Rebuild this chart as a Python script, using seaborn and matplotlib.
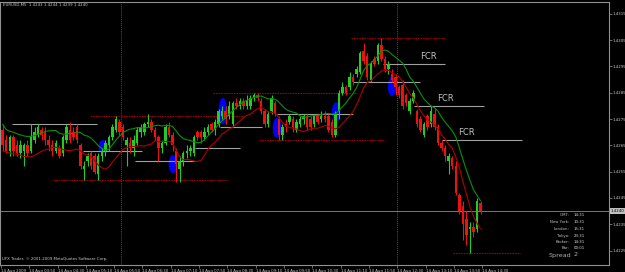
import matplotlib
matplotlib.use("Agg")
import matplotlib.pyplot as plt
import matplotlib.transforms as mtransforms
from matplotlib.patches import Ellipse
import seaborn as sns
import numpy as np
import pandas as pd

symbol = "EURUSD,M5"

opens = [1.4271, 1.4267, 1.4263, 1.4268, 1.4265, 1.4262, 1.4263, 1.4265, 1.4263, 1.4267,
         1.4269, 1.4271, 1.4270, 1.4267, 1.4265, 1.4263, 1.4264, 1.4262, 1.4267, 1.4271,
         1.4270, 1.4272, 1.4265, 1.4256, 1.4259, 1.4262, 1.4261, 1.4254, 1.4261, 1.4263,
         1.4265, 1.4268, 1.4271, 1.4274, 1.4272, 1.4265, 1.4266, 1.4264, 1.4266, 1.4270,
         1.4270, 1.4273, 1.4274, 1.4271, 1.4268, 1.4264, 1.4266, 1.4272, 1.4269, 1.4263,
         1.4256, 1.4259, 1.4262, 1.4263, 1.4262, 1.4270, 1.4270, 1.4268, 1.4270, 1.4273,
         1.4271, 1.4273, 1.4276, 1.4278, 1.4276, 1.4273, 1.4281, 1.4280, 1.4282, 1.4280,
         1.4280, 1.4283, 1.4284, 1.4282, 1.4278, 1.4273, 1.4278, 1.4281, 1.4275, 1.4269,
         1.4273, 1.4274, 1.4275, 1.4271, 1.4273, 1.4275, 1.4276, 1.4275, 1.4273, 1.4276,
         1.4275, 1.4276, 1.4276, 1.4274, 1.4269, 1.4278, 1.4285, 1.4287, 1.4287, 1.4291,
         1.4292, 1.4293, 1.4301, 1.4299, 1.4290, 1.4298, 1.4297, 1.4303, 1.4298, 1.4294,
         1.4292, 1.4291, 1.4287, 1.4288, 1.4284, 1.4278, 1.4282, 1.4278, 1.4275, 1.4269,
         1.4276, 1.4273, 1.4277, 1.4272, 1.4266, 1.4264, 1.4259, 1.4260, 1.4257, 1.4246,
         1.4242, 1.4237, 1.4233, 1.4234, 1.4233, 1.4243]

highs = [1.4273, 1.4269, 1.4269, 1.4269, 1.4267, 1.4267, 1.4266, 1.4267, 1.4273, 1.4272,
         1.4273, 1.4272, 1.4272, 1.4269, 1.4267, 1.4267, 1.4265, 1.4269, 1.4273, 1.4274,
         1.4272, 1.4273, 1.4266, 1.4259, 1.4262, 1.4263, 1.4262, 1.4262, 1.4264, 1.4267,
         1.4269, 1.4273, 1.4276, 1.4275, 1.4273, 1.4268, 1.4268, 1.4269, 1.4272, 1.4273,
         1.4274, 1.4277, 1.4275, 1.4272, 1.4269, 1.4267, 1.4273, 1.4274, 1.4270, 1.4264,
         1.4261, 1.4263, 1.4265, 1.4265, 1.4269, 1.4271, 1.4271, 1.4272, 1.4273, 1.4274,
         1.4275, 1.4279, 1.4280, 1.4280, 1.4282, 1.4282, 1.4283, 1.4283, 1.4283, 1.4284,
         1.4284, 1.4285, 1.4285, 1.4283, 1.4279, 1.4278, 1.4284, 1.4282, 1.4276, 1.4273,
         1.4275, 1.4277, 1.4276, 1.4275, 1.4276, 1.4277, 1.4277, 1.4276, 1.4277, 1.4277,
         1.4278, 1.4278, 1.4277, 1.4275, 1.4278, 1.4286, 1.4289, 1.4288, 1.4293, 1.4292,
         1.4295, 1.4301, 1.4304, 1.4300, 1.4297, 1.4299, 1.4304, 1.4306, 1.4299, 1.4297,
         1.4294, 1.4292, 1.4288, 1.4290, 1.4285, 1.4283, 1.4286, 1.4279, 1.4276, 1.4274,
         1.4277, 1.4280, 1.4279, 1.4273, 1.4267, 1.4265, 1.4262, 1.4261, 1.4259, 1.4247,
         1.4244, 1.4240, 1.4236, 1.4236, 1.4245, 1.4244]

lows = [1.4263, 1.4262, 1.4261, 1.4261, 1.4261, 1.4260, 1.4257, 1.4261, 1.4262, 1.4266,
        1.4268, 1.4267, 1.4265, 1.4263, 1.4261, 1.4262, 1.4260, 1.4261, 1.4266, 1.4266,
        1.4267, 1.4266, 1.4256, 1.4252, 1.4257, 1.4256, 1.4254, 1.4252, 1.4259, 1.4261,
        1.4263, 1.4267, 1.4270, 1.4269, 1.4267, 1.4257, 1.4262, 1.4261, 1.4265, 1.4268,
        1.4269, 1.4272, 1.4270, 1.4267, 1.4259, 1.4262, 1.4265, 1.4268, 1.4263, 1.4251,
        1.4251, 1.4257, 1.4260, 1.4261, 1.4261, 1.4267, 1.4266, 1.4267, 1.4269, 1.4270,
        1.4269, 1.4272, 1.4275, 1.4273, 1.4275, 1.4272, 1.4279, 1.4279, 1.4279, 1.4279,
        1.4279, 1.4282, 1.4282, 1.4277, 1.4272, 1.4272, 1.4277, 1.4276, 1.4267, 1.4267,
        1.4270, 1.4273, 1.4270, 1.4270, 1.4272, 1.4273, 1.4271, 1.4271, 1.4272, 1.4273,
        1.4274, 1.4274, 1.4270, 1.4268, 1.4268, 1.4275, 1.4284, 1.4284, 1.4286, 1.4288,
        1.4291, 1.4292, 1.4296, 1.4290, 1.4289, 1.4295, 1.4296, 1.4297, 1.4293, 1.4292,
        1.4289, 1.4284, 1.4283, 1.4279, 1.4280, 1.4277, 1.4281, 1.4272, 1.4270, 1.4268,
        1.4271, 1.4272, 1.4271, 1.4265, 1.4263, 1.4259, 1.4254, 1.4256, 1.4246, 1.4239,
        1.4229, 1.4227, 1.4224, 1.4230, 1.4232, 1.4239]

closes = [1.4265, 1.4263, 1.4268, 1.4263, 1.4262, 1.4265, 1.4265, 1.4262, 1.4268, 1.4270,
          1.4272, 1.4269, 1.4267, 1.4265, 1.4263, 1.4266, 1.4261, 1.4268, 1.4272, 1.4267,
          1.4268, 1.4267, 1.4257, 1.4257, 1.4261, 1.4257, 1.4255, 1.4261, 1.4263, 1.4266,
          1.4268, 1.4272, 1.4275, 1.4270, 1.4268, 1.4267, 1.4264, 1.4267, 1.4271, 1.4272,
          1.4273, 1.4274, 1.4271, 1.4268, 1.4264, 1.4266, 1.4272, 1.4269, 1.4265, 1.4258,
          1.4259, 1.4262, 1.4263, 1.4264, 1.4268, 1.4268, 1.4268, 1.4270, 1.4272, 1.4271,
          1.4274, 1.4278, 1.4278, 1.4275, 1.4280, 1.4281, 1.4280, 1.4282, 1.4280, 1.4282,
          1.4283, 1.4284, 1.4283, 1.4278, 1.4273, 1.4277, 1.4283, 1.4277, 1.4269, 1.4272,
          1.4272, 1.4276, 1.4272, 1.4274, 1.4275, 1.4276, 1.4272, 1.4272, 1.4276, 1.4274,
          1.4276, 1.4275, 1.4271, 1.4269, 1.4277, 1.4285, 1.4287, 1.4285, 1.4291, 1.4289,
          1.4294, 1.4300, 1.4297, 1.4291, 1.4296, 1.4296, 1.4303, 1.4298, 1.4294, 1.4296,
          1.4290, 1.4287, 1.4284, 1.4280, 1.4281, 1.4282, 1.4285, 1.4273, 1.4271, 1.4273,
          1.4272, 1.4278, 1.4272, 1.4266, 1.4264, 1.4261, 1.4261, 1.4257, 1.4247, 1.4240,
          1.4235, 1.4231, 1.4234, 1.4232, 1.4244, 1.4240]

time_labels = ["14 Aug 2009", "14 Aug 03:50", "14 Aug 04:30", "14 Aug 05:10", "14 Aug 05:50",
               "14 Aug 06:30", "14 Aug 07:10", "14 Aug 07:50", "14 Aug 08:30", "14 Aug 09:10",
               "14 Aug 09:50", "14 Aug 10:30", "14 Aug 11:10", "14 Aug 11:50", "14 Aug 12:30",
               "14 Aug 13:10", "14 Aug 13:50", "14 Aug 14:30"]
time_tick_bars = [-0.5, 7.5, 15.5, 23.5, 31.5, 39.5, 47.5, 55.5, 63.5, 71.5,
                  79.5, 87.5, 95.5, 103.5, 111.5, 119.5, 127.5, 135.5]

price_ticks = [1.4225, 1.4235, 1.4245, 1.4255, 1.4265, 1.4275, 1.4285, 1.4295, 1.4305, 1.4315]

# support / resistance levels (dark red, dotted)
red_level_price = [1.4252, 1.4276, 1.4285, 1.4267, 1.4306, 1.4224]
red_level_start = [14.2, 24.7, 59.4, 72.4, 98.4, 127.2]
red_level_end = [63.7, 67.9, 100.1, 108.0, 124.9, 146.1]

# grey levels
grey_level_price = [1.4273, 1.4263, 1.4259, 1.4264, 1.4272, 1.4277, 1.4289]
grey_level_start = [2.6, 22.7, 37.4, 54.3, 61.4, 77.5, 98.9]
grey_level_end = [26.6, 39.3, 54.3, 67.0, 73.2, 98.9, 117.9]

# FCR levels
fcr_price = [1.4296, 1.4280, 1.4267]
fcr_start = [107.4, 116.2, 124.1]
fcr_end = [124.9, 136.0, 146.7]
fcr_text_bar = [118.0, 122.7, 128.6]

# blue highlight ellipses
ell_bar = [28.3, 48.1, 62.2, 77.5, 94.2, 110.0]
ell_price = [1.42645, 1.42579, 1.42780, 1.42716, 1.42776, 1.42873]
ell_height = [0.00050, 0.00068, 0.00100, 0.00076, 0.00076, 0.00072]

separator_bars = [33.4, 111.4]

clock_names = ["GMT:", "New York:", "London:", "Tokyo:", "Broker:", "Bar:"]
clock_values = ["14:31", "10:31", "15:31", "23:31", "14:31", "00:01"]
spread_value = 2

# ---------------------------------------------------------------
sns.set_theme(style="dark")
plt.rcParams["font.family"] = ["DejaVu Sans"]

W, H = 625, 272
SMALL = 2.75
fig = plt.figure(figsize=(W / 100, H / 100), dpi=100, facecolor="black")
ax = fig.add_axes([0 / W, 7 / H, 609 / W, 263 / H])
ax.set_facecolor("black")
ax.grid(False)

df = pd.DataFrame({"bar": np.arange(len(closes)), "open": opens, "high": highs,
                   "low": lows, "close": closes})
up = (df["close"] >= df["open"]).to_numpy()
cols = np.where(up, "#22cc22", "#ee1111")

for bx, by, bh in zip(ell_bar, ell_price, ell_height):
    ax.add_patch(Ellipse((bx, by), 2.4, bh, facecolor="#0000ff", edgecolor="none", zorder=2))

for xs in separator_bars:
    ax.axvline(xs, color="#707070", lw=0.6, ls=(0, (1, 1.5)), zorder=1)

ax.axhline(closes[-1], color="#8a8a8a", lw=0.6, zorder=1)

ax.hlines(red_level_price, red_level_start, red_level_end, colors="#a00000", lw=0.8,
          linestyles=[(0, (1.5, 0.8))], zorder=2)
ax.hlines(grey_level_price, grey_level_start, grey_level_end, colors="#a0a0a0", lw=0.8, zorder=2)
ax.hlines(fcr_price, fcr_start, fcr_end, colors="#a0a0a0", lw=0.8, zorder=2)
for tb, p in zip(fcr_text_bar, fcr_price):
    ax.annotate("FCR", (tb, p), xytext=(0, 2), textcoords="offset points",
                ha="left", va="bottom", fontsize=6, color="#c0c0c0")

ax.vlines(df["bar"], df["low"], df["high"], colors=cols, lw=0.8, zorder=3)
body_lo = np.minimum(df["open"], df["close"])
body_h = np.maximum(np.abs(df["close"] - df["open"]), 0.00004)
ax.bar(df["bar"], body_h, bottom=body_lo, width=0.7, color=cols, linewidth=0, zorder=4)

df["ma_high"] = df["high"].rolling(8, min_periods=1).mean()
df["ma_low"] = df["low"].rolling(8, min_periods=1).mean()
sns.lineplot(data=df, x="bar", y="ma_high", color="#0a900a", lw=0.8, ax=ax, zorder=5)
sns.lineplot(data=df, x="bar", y="ma_low", color="#b00000", lw=0.8, ax=ax, zorder=5)

ax.set_xlim(-0.76, 171.3)
ax.set_ylim(1.42195, 1.43195)
ax.set_xlabel("")
ax.set_ylabel("")

ax.set_xticks(time_tick_bars)
ax.set_xticklabels(time_labels, ha="left", fontsize=SMALL, color="#c8c8c8")
ax.yaxis.tick_right()
ax.set_yticks(price_ticks)
ax.set_yticklabels([f"{p:.4f}" for p in price_ticks], fontsize=SMALL, color="#c8c8c8")
ax.tick_params(axis="both", length=2, width=0.5, color="#909090", pad=0.6,
               bottom=True, right=True, left=False, top=False)
for s in ax.spines.values():
    s.set_color("#909090")
    s.set_linewidth(0.8)
    s.set_visible(True)

trans = mtransforms.blended_transform_factory(ax.transAxes, ax.transData)
ax.text(1.003, closes[-1], f"{closes[-1]:.4f}", transform=trans, fontsize=SMALL, color="black",
        va="center", ha="left",
        bbox=dict(boxstyle="square,pad=0.2", facecolor="#c0c0c0", edgecolor="none"))

fig.text(3 / W, 1 - 5 / H, f"{symbol}  {opens[-1]:.4f} {highs[-1]:.4f} {lows[-1]:.4f} {closes[-1]:.4f}",
         fontsize=SMALL, color="#c8c8c8", va="center", ha="left")
fig.text(2 / W, 1 - 259 / H, "UFX Trader, © 2001-2009 MetaQuotes Software Corp.",
         fontsize=SMALL, color="#c8c8c8", va="center", ha="left")

rows_y = [215, 222, 229, 236, 242, 248]
for yy, nm, vl in zip(rows_y, clock_names, clock_values):
    fig.text(569 / W, 1 - yy / H, nm, fontsize=SMALL, color="#c0c0c0", va="center", ha="right")
    fig.text(574 / W, 1 - yy / H, vl, fontsize=SMALL, color="#d8d8d8", va="center", ha="left")
fig.text(549 / W, 1 - 255 / H, "Spread", fontsize=4.6, color="#b0b0b0", va="center", ha="left")
fig.text(574 / W, 1 - 255 / H, str(spread_value), fontsize=4.6, color="#b0b0b0", va="center", ha="left")

fig.savefig("out.png", dpi=100, facecolor="black")
